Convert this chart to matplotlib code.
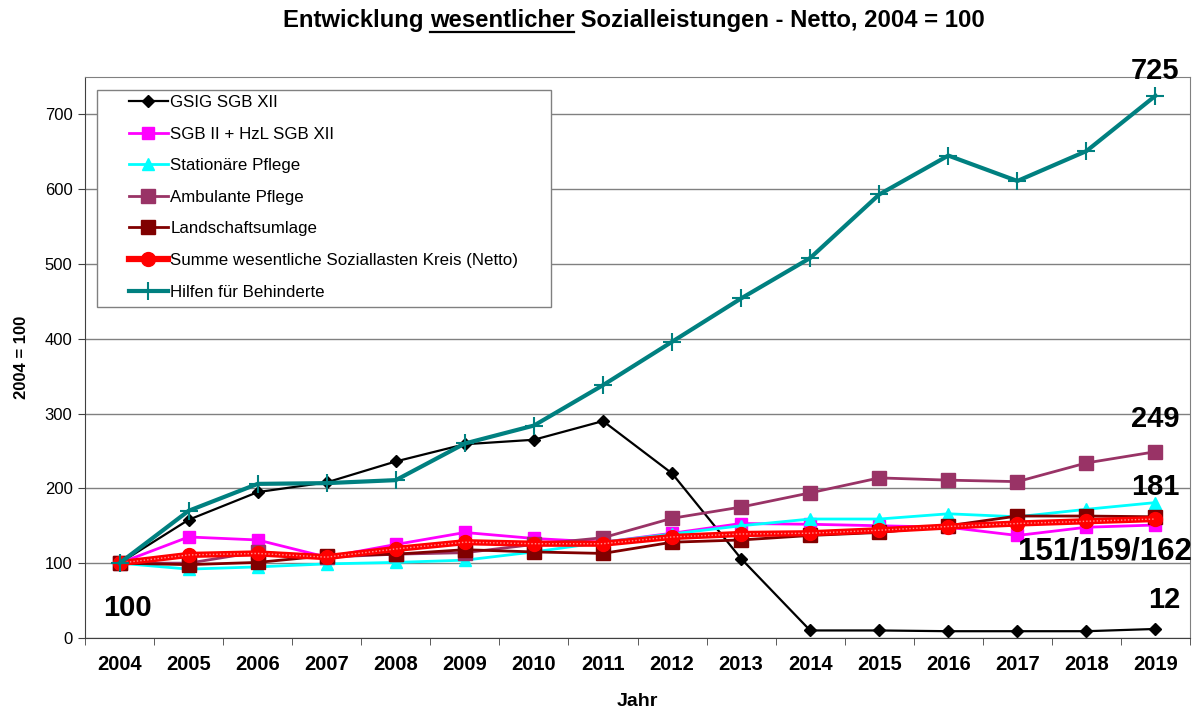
import matplotlib
matplotlib.use("Agg")
import matplotlib.pyplot as plt
from matplotlib.lines import Line2D
from matplotlib.patches import Rectangle
import numpy as np

plt.rcParams["font.family"] = ["Liberation Sans", "DejaVu Sans"]

years = [str(y) for y in range(2004, 2020)]

gsig = [100, 158, 195, 208, 236, 259, 265, 290, 220, 106, 10, 10, 9, 9, 9, 12]
sgb2 = [100, 135, 131, 108, 125, 141, 133, 128, 140, 153, 152, 150, 148, 137, 148, 151]
stationaer = [100, 92, 95, 99, 101, 104, 115, 128, 139, 150, 159, 159, 166, 162, 172, 181]
ambulant = [100, 100, 115, 108, 112, 114, 125, 134, 160, 175, 194, 214, 211, 209, 234, 249]
landschaft = [100, 98, 101, 110, 112, 118, 115, 113, 128, 131, 137, 141, 150, 163, 163, 162]
summe = [100, 111, 113, 108, 119, 128, 126, 126, 135, 139, 140, 144, 149, 153, 156, 159]
hilfen = [100, 170, 206, 207, 211, 260, 284, 338, 396, 454, 508, 593, 645, 611, 651, 725]

labels = ["GSIG SGB XII", "SGB II + HzL SGB XII", "Stationäre Pflege",
          "Ambulante Pflege", "Landschaftsumlage",
          "Summe wesentliche Soziallasten Kreis (Netto)",
          "Hilfen für Behinderte"]

x = np.arange(len(years))

fig = plt.figure(figsize=(11.96, 7.10), dpi=100)
ax = fig.add_axes([0.0711, 0.1015, 0.9239, 0.7900])
W, H = fig.bbox.width, fig.bbox.height

grid_c = "#808080"
ax.plot(x, gsig, color="black", lw=1.6, marker="D", ms=6, label=labels[0])
ax.plot(x, sgb2, color="#ff00ff", lw=2, marker="s", ms=9, label=labels[1])
ax.plot(x, stationaer, color="#00ffff", lw=2, marker="^", ms=9, label=labels[2])
ax.plot(x, ambulant, color="#993366", lw=2, marker="s", ms=10, label=labels[3])
ax.plot(x, landschaft, color="#800000", lw=2, marker="s", ms=10, label=labels[4])
ax.plot(x, summe, color="#ff0000", lw=4.5, marker="o", ms=10, label=labels[5])
# hatched look of the Excel pattern line
ax.plot(x, summe, color="#ff9090", lw=1, ls=(0, (1, 1.5)))
ax.plot(x, hilfen, color="#008080", lw=3, marker="+", ms=13, mew=1.5,
        label=labels[6])

ax.set_xlim(-0.5, len(years) - 0.5)
ax.set_ylim(0, 750)
ax.set_yticks(range(0, 701, 100))
ax.yaxis.grid(True, color=grid_c, lw=1)
ax.set_axisbelow(True)
ax.set_xticks(x)
ax.set_xticklabels(years, fontsize=14.5, fontweight="bold")
ax.set_xticks(np.arange(-0.5, len(years)), minor=True)
ax.tick_params(axis="x", which="major", length=0, pad=12)
ax.tick_params(axis="x", which="minor", length=5, direction="out", color="#404040")
ax.tick_params(axis="y", length=5, labelsize=12, color="#404040", pad=4)
for side in ["top", "right"]:
    ax.spines[side].set_color(grid_c)
for side in ["left", "bottom"]:
    ax.spines[side].set_color("#404040")

ax.set_xlabel("Jahr", fontsize=14, fontweight="bold", labelpad=14)
ax.set_ylabel("2004 = 100", fontsize=12, fontweight="bold", labelpad=11)

leg = ax.legend(loc="upper left", bbox_to_anchor=(0.0395, 0.968), fontsize=12.2,
                frameon=False, handlelength=2.3, handletextpad=0.15,
                labelspacing=0.98, borderpad=0, borderaxespad=0)
leg.set_zorder(6)

# legend frame as drawn in the original (wide left indent)
ax.add_patch(Rectangle((97 / W, 1 - 307 / H), (551 - 97) / W, (307 - 90) / H,
                       transform=fig.transFigure, facecolor="white",
                       edgecolor=grid_c, lw=1, zorder=5, clip_on=False))

# value labels at the last year
big = dict(fontsize=21, fontweight="bold", ha="center", annotation_clip=False)
ax.annotate("725", xy=(x[-1], hilfen[-1]), xytext=(0, 8),
            textcoords="offset points", va="bottom", **big)
ax.annotate("249", xy=(x[-1], ambulant[-1]), xytext=(0, 13.5),
            textcoords="offset points", va="bottom", **big)
ax.annotate("181", xy=(x[-1], stationaer[-1]), xytext=(0, 1),
            textcoords="offset points", va="bottom", **big)
ax.annotate("151/159/162", xy=(x[-1], sgb2[-1]), xytext=(26, -8),
            textcoords="offset points", va="top",
            fontsize=22.5, fontweight="bold", ha="right")
ax.annotate("12", xy=(x[-1], gsig[-1]), xytext=(6, 11),
            textcoords="offset points", va="bottom", **big)
ax.annotate("100", xy=(x[0], gsig[0]), xytext=(6, -22),
            textcoords="offset points", va="top", **big)

# title with underlined word
parts = ["Entwicklung ", "wesentlicher", " Sozialleistungen - Netto, 2004 = 100"]
fig.canvas.draw()
renderer = fig.canvas.get_renderer()
tstyle = dict(fontsize=17.2, fontweight="bold", va="baseline")
texts = [fig.text(0, 0.962, p, **tstyle) for p in parts]
widths = [t.get_window_extent(renderer).width for t in texts]
xpos = 0.530 * W - sum(widths) / 2
for t, w in zip(texts, widths):
    t.set_x(xpos / W)
    xpos += w
x0 = texts[1].get_position()[0]
x1 = x0 + widths[1] / W
fig.add_artist(Line2D([x0, x1], [0.955, 0.955], color="black", lw=1.6,
                      transform=fig.transFigure))

fig.savefig("out.png", dpi=100)
